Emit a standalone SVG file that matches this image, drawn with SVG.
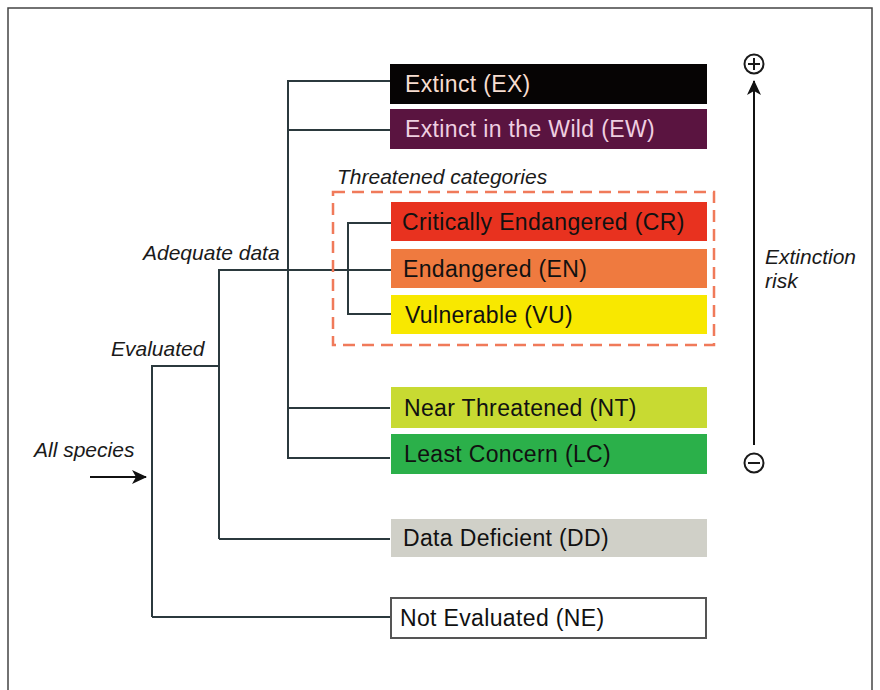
<svg xmlns="http://www.w3.org/2000/svg" width="880" height="690" viewBox="0 0 880 690">
<defs>
<style>
.lbl{font-family:"Liberation Sans",Arial,sans-serif;font-size:23px;letter-spacing:0.35px;fill:#111}
.it{font-family:"Liberation Sans",Arial,sans-serif;font-size:21px;font-style:italic;fill:#1a1a1a}
.ln{fill:none;stroke:#2b393d;stroke-width:2}
.sym{fill:none;stroke:#1a1a1a;stroke-width:2}
</style>
<marker id="ah" markerWidth="16" markerHeight="14" refX="14" refY="7" orient="auto" markerUnits="userSpaceOnUse">
<path d="M0,0 L15,7 L0,14 L4,7 Z" fill="#111"/>
</marker>
</defs>
<rect x="0" y="0" width="880" height="690" fill="#ffffff"/>
<rect x="8" y="8" width="864" height="700" fill="none" stroke="#444" stroke-width="1.5"/>

<g id="connectors">
<path class="ln" d="M390,81 H288 V458 H390"/>
<path class="ln" d="M288,130 H390"/>
<path class="ln" d="M288,408 H390"/>
<path class="ln" d="M219,539 V270 H391"/>
<path class="ln" d="M219,539 H390"/>
<path class="ln" d="M391,223 H348 V314 H391"/>
<path class="ln" d="M152,617 V366 H219"/>
<path class="ln" d="M152,617 H390"/>
<line x1="90" y1="477" x2="146" y2="477" stroke="#111" stroke-width="2" marker-end="url(#ah)"/>
<line x1="754" y1="445" x2="754" y2="81" stroke="#111" stroke-width="2" marker-end="url(#ah)"/>
</g>

<g id="threatened">
<rect x="333" y="192" width="381" height="153" fill="none" stroke="#f07a5a" stroke-width="2.5" stroke-dasharray="12,7"/>
<text class="it" x="337" y="184">Threatened categories</text>
</g>

<g id="EX"><rect x="390" y="64" width="317" height="40" fill="#060404"/><text class="lbl" x="405" y="92" style="fill:#f7ddd0">Extinct (EX)</text></g>
<g id="EW"><rect x="390" y="109" width="317" height="40" fill="#5a1440"/><text class="lbl" x="405" y="137" style="fill:#efcfe0">Extinct in the Wild (EW)</text></g>
<g id="CR"><rect x="391" y="202" width="316" height="39" fill="#e8321f"/><text class="lbl" x="402" y="230">Critically Endangered (CR)</text></g>
<g id="EN"><rect x="391" y="249" width="316" height="39" fill="#ef7a3f"/><text class="lbl" x="403" y="277">Endangered (EN)</text></g>
<g id="VU"><rect x="391" y="295" width="316" height="39" fill="#f8e800"/><text class="lbl" x="405" y="323">Vulnerable (VU)</text></g>
<g id="NT"><rect x="391" y="387" width="316" height="41" fill="#c8da32"/><text class="lbl" x="404" y="416">Near Threatened (NT)</text></g>
<g id="LC"><rect x="391" y="434" width="316" height="40" fill="#2bb04a"/><text class="lbl" x="404" y="462">Least Concern (LC)</text></g>
<g id="DD"><rect x="391" y="519" width="316" height="38" fill="#d0d0c8"/><text class="lbl" x="403" y="546">Data Deficient (DD)</text></g>
<g id="NE"><rect x="391" y="598" width="315" height="40" fill="#ffffff" stroke="#555" stroke-width="2"/><text class="lbl" x="400" y="626">Not Evaluated (NE)</text></g>

<g id="labels">
<text class="it" x="143" y="260">Adequate data</text>
<text class="it" x="111" y="356">Evaluated</text>
<text class="it" x="34" y="457">All species</text>
<text class="it" x="765" y="264">Extinction</text>
<text class="it" x="765" y="288">risk</text>
</g>

<g id="plus">
<circle class="sym" cx="754" cy="64" r="9.5"/>
<path class="sym" d="M748,64 H760 M754,58 V70"/>
</g>
<g id="minus">
<circle class="sym" cx="754" cy="463" r="9.5"/>
<path class="sym" d="M748,463 H760"/>
</g>
</svg>
